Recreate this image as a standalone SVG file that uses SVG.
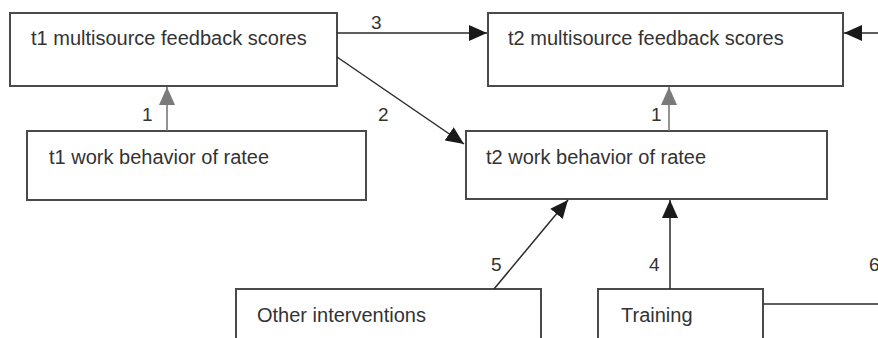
<svg xmlns="http://www.w3.org/2000/svg" width="878" height="338" viewBox="0 0 878 338">
<style>
.box{fill:#fff;stroke:#4a4a4a;stroke-width:2}
.txt{font-family:"Liberation Sans",Arial,sans-serif;font-size:20px;fill:#333}
.lbl{font-family:"Liberation Sans",Arial,sans-serif;font-size:19px;fill:#333}
.ln{stroke:#2a2a2a;stroke-width:1.5;fill:none}
.lg{stroke:#707070;stroke-width:1.5;fill:none}
</style>
<defs>
<marker id="ab" markerUnits="userSpaceOnUse" markerWidth="18" markerHeight="16" refX="18" refY="8" orient="auto">
<path d="M0,0 L18,8 L0,16 Z" fill="#1a1a1a"/>
</marker>
<marker id="ag" markerUnits="userSpaceOnUse" markerWidth="18" markerHeight="16" refX="18" refY="8" orient="auto">
<path d="M0,0 L18,8 L0,16 Z" fill="#7a7a7a"/>
</marker>
</defs>
<g id="n1"><rect class="box" x="10" y="13" width="327" height="73"/><text class="txt" x="31" y="45">t1 multisource feedback scores</text></g>
<g id="n2"><rect class="box" x="27" y="131" width="339" height="69"/><text class="txt" x="49" y="164">t1 work behavior of ratee</text></g>
<g id="n3"><rect class="box" x="488" y="13" width="355" height="73"/><text class="txt" x="508" y="45">t2 multisource feedback scores</text></g>
<g id="n4"><rect class="box" x="466" y="131" width="361" height="68"/><text class="txt" x="486" y="164">t2 work behavior of ratee</text></g>
<g id="n5"><rect class="box" x="236" y="289" width="305" height="60"/><text class="txt" x="257" y="322">Other interventions</text></g>
<g id="n6"><rect class="box" x="598" y="289" width="165" height="60"/><text class="txt" x="621" y="322">Training</text></g>
<g id="connectors">
<line class="lg" x1="167" y1="131" x2="167" y2="87" marker-end="url(#ag)"/>
<text class="lbl" x="142" y="121">1</text>
<line class="lg" x1="669" y1="131" x2="669" y2="87" marker-end="url(#ag)"/>
<text class="lbl" x="651" y="121">1</text>
<line class="ln" x1="337" y1="33" x2="487" y2="33" marker-end="url(#ab)"/>
<text class="lbl" x="371" y="29">3</text>
<line class="ln" x1="878" y1="33" x2="844" y2="33" marker-end="url(#ab)"/>
<line class="ln" x1="337" y1="57" x2="464" y2="144" marker-end="url(#ab)"/>
<text class="lbl" x="378" y="121">2</text>
<line class="ln" x1="494" y1="289" x2="568" y2="200" marker-end="url(#ab)"/>
<text class="lbl" x="491" y="271">5</text>
<line class="ln" x1="670" y1="289" x2="670" y2="200" marker-end="url(#ab)"/>
<text class="lbl" x="649" y="271">4</text>
<line class="ln" x1="763" y1="304" x2="878" y2="304"/>
<text class="lbl" x="869" y="271">6</text>
</g>
</svg>
